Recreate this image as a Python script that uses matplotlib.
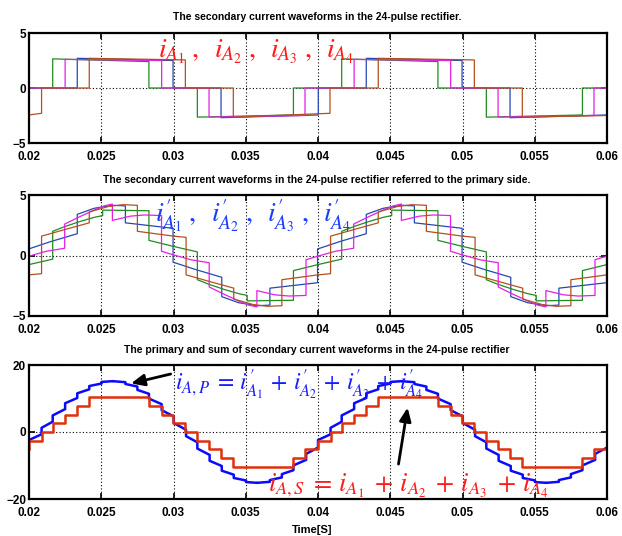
import numpy as np
import matplotlib
matplotlib.use('Agg')
import matplotlib.pyplot as plt

plt.rcParams['mathtext.fontset'] = 'stix'
plt.rcParams['font.family'] = ['Liberation Sans', 'DejaVu Sans']

# ---------------- data ----------------
x_ticks = [0.02, 0.025, 0.03, 0.035, 0.04, 0.045, 0.05, 0.055, 0.06]
x_labels = ['0.02', '0.025', '0.03', '0.035', '0.04', '0.045', '0.05', '0.055', '0.06']

# Panel 1: secondary currents (full window)
g1_t = [0.0200, 0.02164, 0.02164, 0.0283, 0.0283, 0.03165, 0.03165, 0.0383, 0.0383,
        0.04164, 0.04164, 0.0483, 0.0483, 0.05165, 0.05165, 0.0583, 0.0583, 0.0600]
g1_v = [0, 0, 2.65, 2.40, 0, 0, -2.65, -2.45, 0, 0, 2.65, 2.40, 0, 0, -2.65, -2.45, 0, 0]
m1_t = [0.0200, 0.0225, 0.0225, 0.02918, 0.02918, 0.03246, 0.03246, 0.0391, 0.0391,
        0.0425, 0.0425, 0.04918, 0.04918, 0.05246, 0.05246, 0.0591, 0.0591, 0.0600]
m1_v = [0, 0, 2.6, 2.5, 0, 0, -2.65, -2.5, 0, 0, 2.6, 2.5, 0, 0, -2.65, -2.5, 0, 0]
b1_t = [0.0200, 0.02002, 0.02002, 0.02334, 0.02334, 0.02997, 0.02997, 0.03329, 0.03329,
        0.04002, 0.04002, 0.04334, 0.04334, 0.04997, 0.04997, 0.05329, 0.05329, 0.0600]
b1_v = [-2.45, -2.45, 0, 0, 2.7, 2.5, 0, 0, -2.7, -2.45, 0, 0, 2.7, 2.5, 0, 0, -2.7, -2.45]
r1_t = [0.0200, 0.02087, 0.02087, 0.02417, 0.02417, 0.03082, 0.03082, 0.03414, 0.03414,
        0.04083, 0.04083, 0.04417, 0.04417, 0.05082, 0.05082, 0.05414, 0.05414, 0.0600]
r1_v = [-2.45, -2.3, 0, 0, 2.7, 2.55, 0, 0, -2.65, -2.3, 0, 0, 2.7, 2.55, 0, 0, -2.65, -2.5]

# Panel 2: referred currents, one period (0.02 - 0.04), repeated each period
g2_t = [0.0200, 0.02164, 0.02164, 0.0225, 0.0235, 0.0245, 0.0251, 0.0251, 0.0283, 0.0283,
        0.0300, 0.03165, 0.03165, 0.0325, 0.0335, 0.0345, 0.0351, 0.0351, 0.0383, 0.0383, 0.0400]
g2_v = [-0.75, -0.3, 2.0, 2.4, 2.8, 3.15, 3.3, 3.75, 3.7, 1.25,
        0.75, 0.3, -2.0, -2.4, -2.8, -3.15, -3.3, -3.75, -3.7, -1.25, -0.75]
m2_t = [0.0200, 0.0212, 0.02247, 0.02247, 0.0235, 0.0245, 0.0252, 0.02577, 0.02577, 0.0270,
        0.0280, 0.02917, 0.02917, 0.0300, 0.0312, 0.03247, 0.03247, 0.0335, 0.0345, 0.0352,
        0.03577, 0.03577, 0.0370, 0.0380, 0.03917, 0.03917, 0.0400]
m2_v = [-0.05, 0.35, 0.6, 2.6, 3.2, 3.75, 4.1, 4.25, 2.9, 3.25,
        3.35, 3.3, 0.35, 0.05, -0.35, -0.6, -2.6, -3.2, -3.75, -4.1,
        -4.25, -2.9, -3.25, -3.35, -3.3, -0.35, -0.05]
b2_t = [0.0200, 0.0215, 0.02334, 0.02334, 0.0245, 0.0258, 0.02667, 0.02667, 0.0285, 0.02997,
        0.02997, 0.0315, 0.03334, 0.03334, 0.0345, 0.0358, 0.03667, 0.03667, 0.0385, 0.03997,
        0.03997, 0.0400]
b2_v = [0.55, 1.15, 1.8, 3.4, 3.9, 4.15, 4.1, 2.7, 2.45, 2.25,
        -0.55, -1.15, -1.8, -3.4, -3.9, -4.15, -4.1, -2.7, -2.45, -2.25,
        0.55, 0.55]
r2_t = [0.0200, 0.02087, 0.02087, 0.0225, 0.02417, 0.02417, 0.0255, 0.0265, 0.0275, 0.0275,
        0.0300, 0.03087, 0.03087, 0.0325, 0.03417, 0.03417, 0.0355, 0.0365, 0.0375, 0.0375,
        0.0400]
r2_v = [-1.6, -1.5, 1.6, 2.15, 2.7, 3.6, 4.05, 4.2, 4.15, 2.0,
        1.6, 1.5, -1.6, -2.15, -2.7, -3.6, -4.05, -4.2, -4.15, -2.0,
        -1.6]

# Panel 3: sum of secondary currents (step levels, one period)
s_t = [0.0200, 0.02002, 0.02087, 0.02164, 0.0225, 0.02334, 0.02417, 0.0283, 0.02918,
       0.02997, 0.03082, 0.03165, 0.03246, 0.03329, 0.03414, 0.0383, 0.0391]
s_v = [-5.2, -2.6, 0.0, 2.6, 5.2, 7.8, 10.3, 7.8, 5.2,
       2.6, 0.0, -2.6, -5.2, -7.8, -10.3, -7.8, -5.2]

# Panel 3: primary current, step edges and tread start/end values (one period)
p_edges = [0.0200, 0.02087, 0.02164, 0.0225, 0.02334, 0.02417, 0.02502, 0.02582, 0.02667,
           0.0275, 0.0283, 0.02918, 0.03002, 0.03087, 0.03165, 0.0325, 0.03334, 0.03417,
           0.03502, 0.03582, 0.03667, 0.0375, 0.0383, 0.03918, 0.0400]
p_start = [-2.4, 1.25, 4.94, 8.59, 11.55, 13.72, 14.95, 15.16, 14.34, 12.57, 9.98, 6.52,
           2.69, -1.25, -4.94, -8.59, -11.55, -13.72, -14.95, -15.16, -14.34, -12.57, -9.98, -6.52]
p_end = [-0.68, 3.07, 6.83, 10.15, 12.74, 14.47, 15.18, 14.87, 13.56, 11.40, 8.31, 4.65,
         0.66, -3.07, -6.83, -10.15, -12.74, -14.47, -15.18, -14.87, -13.56, -11.40, -8.31, -4.65]

period = 0.02

# ---------------- colours ----------------
c_green = '#1e8c1e'
c_mag = '#e61ee6'
c_blue = '#2846b4'
c_brown = '#b4501e'
c_pblue = '#0a0aff'
c_pred = '#e0300c'

fig = plt.figure(figsize=(6.22, 5.36), dpi=100)
L, W = 29 / 622, 578 / 622
ax1 = fig.add_axes([L, 1 - 143 / 536, W, 110 / 536])
ax2 = fig.add_axes([L, 1 - 316 / 536, W, 121 / 536])
ax3 = fig.add_axes([L, 1 - 499 / 536, W, 134 / 536])


def tile(t, v):
    t = np.asarray(t)
    return np.concatenate([t, t + period]), np.concatenate([v, v])


def style(ax, ylim, yt):
    ax.set_xlim(0.02, 0.06)
    ax.set_ylim(*ylim)
    ax.set_xticks(x_ticks)
    ax.set_xticklabels(x_labels)
    ax.set_yticks(yt)
    ax.grid(True, linestyle=(0, (1, 2)), color='k', linewidth=0.8)
    for s in ax.spines.values():
        s.set_linewidth(1.6)
    ax.tick_params(direction='in', top=True, right=True, length=4, width=1.2,
                   labelsize=8.5)
    ax.tick_params(axis='x', pad=6)
    ax.tick_params(axis='y', pad=2)
    for lab in ax.get_xticklabels() + ax.get_yticklabels():
        lab.set_fontweight('bold')


# Panel 1
lw1 = 0.9
ax1.plot(b1_t, b1_v, color=c_blue, lw=lw1)
ax1.plot(g1_t, g1_v, color=c_green, lw=lw1)
ax1.plot(m1_t, m1_v, color=c_mag, lw=lw1)
ax1.plot(r1_t, r1_v, color=c_brown, lw=lw1)
style(ax1, (-5, 5), [-5, 0, 5])
ax1.text(0.02893, 3.3, r"$i_{A_1}\;,\;\; i_{A_2}\;,\;\; i_{A_3}\;,\;\; i_{A_4}$", color='#ff1a1a',
         fontsize=20, ha='left', va='center')

# Panel 2
for t, v, c in [(b2_t, b2_v, c_blue), (g2_t, g2_v, c_green), (m2_t, m2_v, c_mag), (r2_t, r2_v, c_brown)]:
    tt, vv = tile(t, v)
    ax2.plot(tt, vv, color=c, lw=lw1)
style(ax2, (-5, 5), [-5, 0, 5])
ax2.text(0.02872, 3.3,
         r"$i^{\prime}_{A_1}\;,\;\; i^{\prime}_{A_2}\;,\;\; i^{\prime}_{A_3}\;,\;\; i^{\prime}_{A_4}$",
         color='#1a3cff', fontsize=20, ha='left', va='center')

# Panel 3
pt, pv = [], []
for cyc in range(2):
    for k in range(len(p_start)):
        pt += [p_edges[k] + cyc * period, p_edges[k + 1] + cyc * period]
        pv += [p_start[k], p_end[k]]
ax3.plot(pt, pv, color=c_pblue, lw=1.8)
st, sv = tile(s_t, s_v)
st = np.append(st, 0.06)
sv = np.append(sv, s_v[0])
ax3.plot(st, sv, color=c_pred, lw=1.8, drawstyle='steps-post')
style(ax3, (-20, 20), [-20, 0, 20])
ax3.text(0.0301, 14.2,
         r"$i_{A,P}\;=\,i^{\prime}_{A_1}\,+\,i^{\prime}_{A_2}\,+\,i^{\prime}_{A_3}\,+\,i^{\prime}_{A_4}$",
         color='#1a1aff', fontsize=17, ha='left', va='center')
ax3.text(0.03654, -15.8, r"$i_{A,S}\;=\,i_{A_1}\;+\,i_{A_2}\;+\,i_{A_3}\;+\,i_{A_4}$", color='#ff1a1a',
         fontsize=19, ha='left', va='center', clip_on=False)
ax3.annotate('', xy=(0.02687, 14.3), xytext=(0.02999, 17.5),
             arrowprops=dict(arrowstyle='-|>,head_length=0.8,head_width=0.35', color='k', lw=2))
ax3.annotate('', xy=(0.04623, 8.1), xytext=(0.04554, -10.4),
             arrowprops=dict(arrowstyle='-|>,head_length=0.8,head_width=0.35', color='k', lw=2))

tfont = dict(fontsize=7.5, fontweight='bold', ha='center', va='center')
fig.text(317 / 622, 1 - 17 / 536, 'The secondary current waveforms in the 24-pulse rectifier.', **tfont)
fig.text(317 / 622, 1 - 180 / 536,
         'The secondary current waveforms in the 24-pulse rectifier referred to the primary side.', **tfont)
fig.text(317 / 622, 1 - 350 / 536,
         'The primary and sum of secondary current waveforms in the 24-pulse rectifier', **tfont)
fig.text(312 / 622, 1 - 530 / 536, 'Time[S]', fontsize=8, fontweight='bold', ha='center', va='center')

fig.savefig('out.png', dpi=100)
